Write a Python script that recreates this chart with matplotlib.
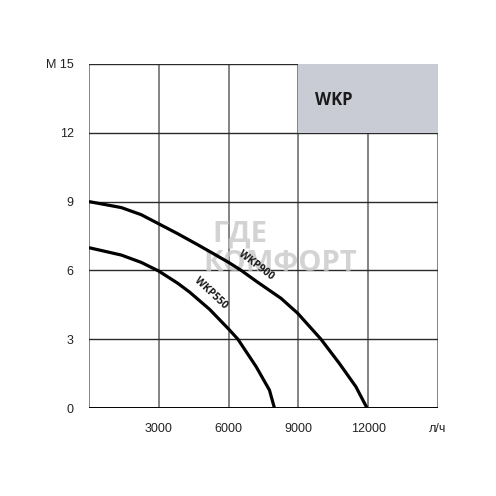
import matplotlib.pyplot as plt

# flow, l/h and head, m
wkp900_q = [0, 1386, 2243, 3000, 3814, 4671, 5400, 6000, 6543, 7186, 8257, 8971,
            9971, 10757, 11471, 11950]
wkp900_h = [9.0, 8.74, 8.43, 8.03, 7.6, 7.12, 6.7, 6.35, 6.0, 5.53, 4.78, 4.13,
            3.0, 1.95, 0.93, 0.0]
wkp550_q = [0, 1386, 2243, 3000, 3814, 4329, 5186, 6014, 6400, 7186, 7757, 7971]
wkp550_h = [6.99, 6.67, 6.35, 5.97, 5.44, 5.05, 4.3, 3.43, 3.0, 1.8, 0.78, 0.0]

x_ticks = [3000, 6000, 9000, 12000, 15000]
x_labels = ['3000', '6000', '9000', '12000', 'л/ч']
y_ticks = [0, 3, 6, 9, 12, 15]
y_labels = ['0', '3', '6', '9', '12', 'M 15']

fig = plt.figure(figsize=(4.96, 4.96), dpi=100)
ax = fig.add_axes([0.1794, 0.1774, 0.883 - 0.1794, 0.871 - 0.1774])
ax.set_xlim(0, 15000)
ax.set_ylim(0, 15)

# grid
for x in [0] + x_ticks:
    ax.axvline(x, color='#6e6e6e', lw=1.2, zorder=1)
for y in y_ticks[1:]:
    ax.axhline(y, color='#2a2a2a', lw=1.0, zorder=1)
ax.axhline(0, color='black', lw=1.4, zorder=2)

for s in ax.spines.values():
    s.set_visible(False)

# grey title box
ax.add_patch(plt.Rectangle((9000, 12), 6000, 3, facecolor='#caccd5',
                           edgecolor='none', zorder=3))
ax.text(9700, 13.45, 'WKP', fontsize=12, fontweight='bold', family='Open Sans',
        color='#1a1a1a', va='center', ha='left', zorder=4)

# watermark
ax.text(5300, 7.6, 'ГДЕ', fontsize=21, fontweight='bold', family='Open Sans',
        color='#c8c8c8', alpha=0.8, ha='left', va='center', zorder=1.5)
ax.text(4900, 6.3, 'КОМФОРТ', fontsize=21, fontweight='bold', family='Open Sans',
        color='#c8c8c8', alpha=0.8, ha='left', va='center', zorder=1.5)

# pump curves
for q, h in [(wkp900_q, wkp900_h), (wkp550_q, wkp550_h)]:
    ax.plot(q, h, color='black', lw=2.3, zorder=5,
            solid_capstyle='butt', solid_joinstyle='round')
ax.text(7200, 6.2, 'WKP900', rotation=-37, fontsize=7.5, family='Open Sans',
        fontweight='bold', color='#1a1a1a', ha='center', va='center', zorder=6)
ax.text(5250, 5.0, 'WKP550', rotation=-43, fontsize=7.5, family='Open Sans',
        fontweight='bold', color='#1a1a1a', ha='center', va='center', zorder=6)

ax.set_xticks(x_ticks)
ax.set_xticklabels(x_labels, family='Liberation Sans', fontsize=9, color='#222222')
ax.set_yticks(y_ticks)
ax.set_yticklabels(y_labels, family='Liberation Sans', fontsize=9, color='#222222')
ax.tick_params(length=0)
ax.tick_params(axis='x', pad=11)
ax.tick_params(axis='y', pad=11)

fig.savefig('out.png', dpi=100, facecolor='white')
